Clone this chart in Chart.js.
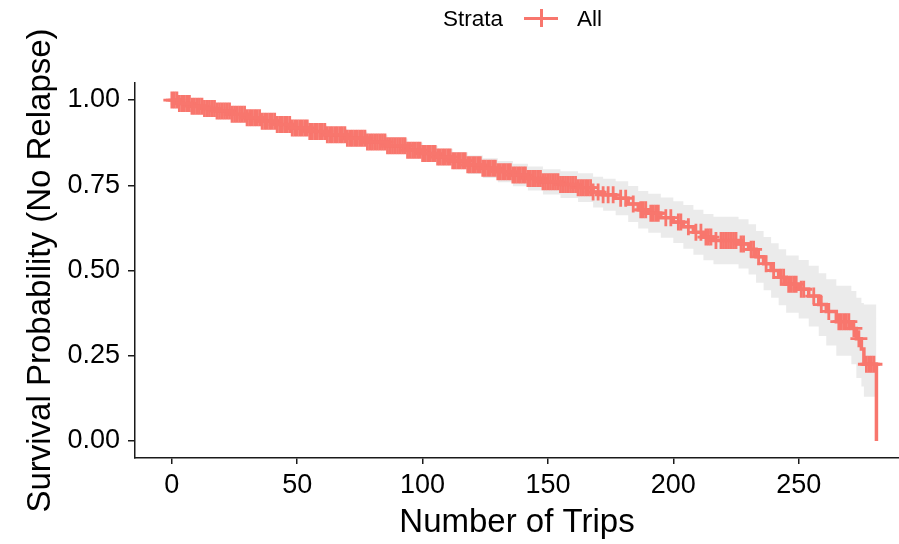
<!DOCTYPE html>
<html>
<head>
<meta charset="utf-8">
<script src="https://cdn.jsdelivr.net/npm/chart.js@4.4.0/dist/chart.umd.min.js"></script>
<style>
  body { margin: 0; background: #fff; overflow: hidden; }
  #wrap { position: relative; width: 899px; height: 544px; }
  #km { display: block; }
  #legend { position: absolute; top: 4px; left: 443px; height: 28px; font: 22.5px "Liberation Sans", Arial, sans-serif; color: #000; white-space: nowrap; }
  #legend span { position: absolute; top: 2px; }
  .key { position: absolute; left: 81px; top: 5px; width: 34px; height: 18px; }
  .key .h { position: absolute; left: 0; top: 7.5px; width: 34px; height: 3.5px; background: #F8766D; }
  .key .v { position: absolute; left: 15.5px; top: 0; width: 3px; height: 18px; background: #F8766D; }
</style>
</head>
<body>
<div id="wrap">
  <canvas id="km" width="899" height="544"></canvas>
  <div id="legend"><span style="left:0">Strata</span><div class="key"><div class="h"></div><div class="v"></div></div><span style="left:134px">All</span></div>
</div>
<script>
// Kaplan-Meier steps (time, survival, 95% CI)
const times = [0, 3, 8, 13, 18, 24, 30, 36, 42, 48, 55, 62, 70, 78, 86, 94, 100, 106, 112, 118, 124, 130, 136, 142, 148,
  155, 162, 168, 172, 177, 182, 186, 190, 195, 200, 204, 208, 212, 216, 226, 230, 233, 236, 239, 242, 245, 250, 254, 258,
  261, 265, 271, 273, 275, 276, 281];
const surv = [1.000, 0.990, 0.982, 0.975, 0.968, 0.958, 0.948, 0.938, 0.928, 0.918, 0.908, 0.898, 0.888, 0.877, 0.866, 0.853,
  0.843, 0.833, 0.822, 0.810, 0.800, 0.790, 0.780, 0.770, 0.760, 0.752, 0.743, 0.730, 0.722, 0.712, 0.695, 0.678, 0.668,
  0.655, 0.642, 0.628, 0.612, 0.598, 0.588, 0.578, 0.562, 0.540, 0.520, 0.500, 0.480, 0.460, 0.445, 0.425, 0.400, 0.380,
  0.350, 0.330, 0.300, 0.270, 0.225, 0.000];
const upper = [1.000, 0.997, 0.991, 0.985, 0.979, 0.970, 0.961, 0.952, 0.943, 0.934, 0.925, 0.916, 0.907, 0.897, 0.887, 0.875,
  0.866, 0.857, 0.847, 0.837, 0.829, 0.821, 0.813, 0.805, 0.797, 0.791, 0.785, 0.775, 0.769, 0.762, 0.748, 0.733, 0.725,
  0.714, 0.703, 0.692, 0.678, 0.666, 0.658, 0.650, 0.636, 0.616, 0.598, 0.580, 0.562, 0.544, 0.531, 0.514, 0.492, 0.474,
  0.455, 0.440, 0.420, 0.405, 0.400, 0.400];
const lower = [1.000, 0.983, 0.973, 0.965, 0.957, 0.946, 0.935, 0.924, 0.913, 0.902, 0.891, 0.880, 0.869, 0.857, 0.845, 0.831,
  0.820, 0.809, 0.797, 0.783, 0.771, 0.759, 0.747, 0.735, 0.723, 0.713, 0.701, 0.685, 0.675, 0.662, 0.642, 0.623, 0.611,
  0.596, 0.581, 0.564, 0.546, 0.530, 0.518, 0.506, 0.488, 0.464, 0.442, 0.420, 0.398, 0.376, 0.359, 0.336, 0.308, 0.280,
  0.250, 0.225, 0.185, 0.160, 0.130, 0.130];

// censored observations (+ marks)
const censorTimes = [0, 1, 2, 3, 4, 5, 6, 7, 8, 9, 10, 11, 12, 13, 14, 15, 16, 17, 18, 19, 20, 21, 22, 23, 24, 25, 26, 27, 28, 29,
  30, 31, 32, 33, 34, 35, 36, 37, 38, 39, 40, 41, 42, 43, 44, 45, 46, 47, 48, 49, 50, 51, 52, 53, 54, 55, 56, 57, 58, 59,
  60, 61, 62, 63, 64, 65, 66, 67, 68, 69, 70, 71, 72, 73, 74, 75, 76, 77, 78, 79, 80, 81, 82, 83, 84, 85, 86, 87, 88, 89,
  90, 91, 92, 93, 94, 95, 96, 97, 98, 99, 100, 101, 102, 103, 104, 105, 106, 107, 108, 109, 110, 111, 112, 113, 114, 115,
  116, 117, 118, 119, 120, 121, 122, 123, 124, 125, 126, 127, 128, 129, 130, 131, 132, 133, 134, 135, 136, 137, 138, 139,
  140, 141, 142, 143, 144, 145, 146, 147, 148, 149, 150, 151, 152, 153, 154, 155, 156, 157, 158, 159, 160, 161, 162, 163,
  164, 165, 166, 167, 168, 170, 172, 174, 176, 179, 181, 184, 187, 188, 189, 191, 192, 193, 194, 197, 199, 202, 203, 206,
  209, 211, 213, 214, 215, 217, 219, 220, 221, 222, 223, 224, 225, 227, 228, 231, 232, 234, 237, 240, 243, 244, 246, 247,
  248, 249, 251, 252, 256, 259, 262, 266, 267, 268, 269, 270, 272, 274, 277, 278, 279, 280];

const xTicks = [0, 50, 100, 150, 200, 250];
const yTicks = [0, 0.25, 0.5, 0.75, 1];

const salmon = '#F8766D';
const axisColor = '#1a1a1a';

function survAt(t) {
    let s = surv[0];
    for (let i = 0; i < times.length; i++) {
        if (times[i] <= t) s = surv[i];
    }
    return s;
}

const curve = times.map((t, i) => ({ x: t, y: surv[i] }));
const upperBand = times.map((t, i) => ({ x: t, y: upper[i] }));
const lowerBand = times.map((t, i) => ({ x: t, y: lower[i] }));
const censors = censorTimes.map(t => ({ x: t, y: survAt(t) }));

new Chart(document.getElementById('km'), {
    type: 'line',
    data: {
        datasets: [
            {
                data: upperBand,
                order: 3,
                stepped: true,
                borderWidth: 0,
                pointRadius: 0,
                backgroundColor: '#EBEBEB',
                fill: '+1'
            },
            {
                data: lowerBand,
                order: 2,
                stepped: true,
                borderWidth: 0,
                pointRadius: 0,
                fill: false
            },
            {
                data: censors,
                order: 1,
                showLine: false,
                pointStyle: 'cross',
                pointRadius: 8.5,
                pointBorderWidth: 2.8,
                pointBorderColor: salmon,
                pointBackgroundColor: salmon
            },
            {
                data: curve,
                order: 0,
                stepped: true,
                borderColor: salmon,
                borderWidth: 3.5,
                pointRadius: 0,
                fill: false
            }
        ]
    },
    options: {
        responsive: false,
        animation: false,
        layout: { autoPadding: false, padding: { top: 83, right: 0, left: 0, bottom: 0 } },
        plugins: { legend: { display: false }, tooltip: { enabled: false } },
        scales: {
            x: {
                type: 'linear',
                min: -14.7,
                max: 290,
                afterBuildTicks: s => { s.ticks = xTicks.map(v => ({ value: v })); },
                afterFit: s => { s.height = 86; s.paddingRight = 0; s.paddingLeft = 0; },
                grid: { drawOnChartArea: false, drawTicks: true, tickLength: 6, color: axisColor, lineWidth: 1.5 },
                border: { display: true, color: axisColor, width: 1.5 },
                ticks: { color: '#000', padding: 8, font: { family: 'Liberation Sans', size: 27, lineHeight: 1 }, maxRotation: 0 },
                title: { display: true, text: 'Number of Trips', color: '#000', padding: { top: 0, bottom: 1 }, font: { family: 'Liberation Sans', size: 33, lineHeight: 1.2 } }
            },
            y: {
                type: 'linear',
                min: -0.05,
                max: 1.05,
                afterBuildTicks: s => { s.ticks = yTicks.map(v => ({ value: v })); },
                afterFit: s => { s.width = 135; s.paddingTop = 0; s.paddingBottom = 0; },
                grid: { drawOnChartArea: false, drawTicks: true, tickLength: 7, color: axisColor, lineWidth: 1.5 },
                border: { display: true, color: axisColor, width: 1.5 },
                ticks: { color: '#000', padding: 8, font: { family: 'Liberation Sans', size: 27 }, callback: v => v.toFixed(2) },
                title: { display: true, text: 'Survival Probability (No Relapse)', color: '#000', padding: { top: 21, bottom: 0 }, font: { family: 'Liberation Sans', size: 33, lineHeight: 1.2 } }
            }
        }
    }
});
</script>
</body>
</html>
